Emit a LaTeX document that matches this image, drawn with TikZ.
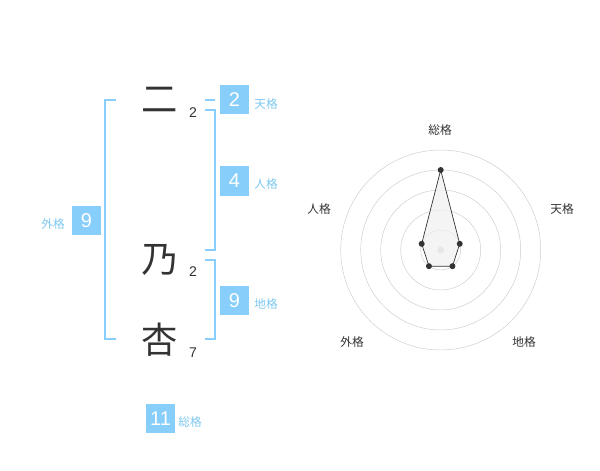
\documentclass[tikz,border=0pt]{standalone}
\usepackage{fontspec}
\setmainfont{Liberation Sans}
\newfontfamily\jpfont{Noto Sans CJK JP}
\usepackage{xcolor}
\usetikzlibrary{positioning,calc}

\definecolor{skyfill}{HTML}{87CEFA}
\definecolor{skytext}{HTML}{7EC8F0}
\definecolor{inkgray}{HTML}{333333}
\definecolor{ringgray}{HTML}{CCCCCC}

\begin{document}
\begin{tikzpicture}[
  x=0.03cm, y=0.03cm,
  kanji/.style={font=\jpfont\fontsize{31}{31}\selectfont, text=inkgray, inner sep=0pt},
  stroke/.style={font=\fontsize{12}{12}\selectfont, text=inkgray, inner sep=0pt},
  score/.style={fill=skyfill, text=white, minimum size=0.87cm, inner sep=0pt, font=\fontsize{17}{17}\selectfont},
  kaku/.style={font=\jpfont\fontsize{10}{10}\selectfont, text=skytext, inner sep=0pt},
  axis/.style={font=\jpfont\fontsize{10}{10}\selectfont, text=inkgray, inner sep=0pt},
  bracket/.style={draw=skyfill, line width=1.6pt},
  ring/.style={draw=ringgray, line width=0.4pt}
]
  \useasboundingbox (0,0) rectangle (600,470);

  % Name characters and stroke counts
  \node[kanji]  (c1) at (160, 370) {二};
  \node[kanji]  (c2) at (160, 210) {乃};
  \node[kanji]  (c3) at (160, 130) {杏};
  \node[stroke] (n1) at (193, 357) {2};
  \node[stroke] (n2) at (193, 198) {2};
  \node[stroke] (n3) at (193, 117) {7};

  % Brackets
  \draw[bracket] (116, 370) -- (105, 370) -- (105, 131) -- (116, 131);
  \draw[bracket] (205, 370) -- (215, 370);
  \draw[bracket] (205, 360) -- (215, 360) -- (215, 220) -- (205, 220);
  \draw[bracket] (205, 210) -- (215, 210) -- (215, 131) -- (205, 131);

  % Scores
  \node[score] (ten)   at (234.5, 370)   {2};
  \node[score] (jin)   at (234.5, 289)   {4};
  \node[score] (chi)   at (234.5, 169.5) {9};
  \node[score] (gai)   at (86.5, 249.5)  {9};
  \node[score] (so)    at (160.5, 51.5)  {11};
  \node[kaku] (tenl) at (266, 366) {天格};
  \node[kaku] (jinl) at (266, 286) {人格};
  \node[kaku] (chil) at (266, 166) {地格};
  \node[kaku] (gail) at (53, 246)  {外格};
  \node[kaku] (sol)  at (190, 48)  {総格};

  % Radar chart
  \coordinate (ctr) at (440.7, 220);
  \foreach \r in {20,40,60,80,100}
    \draw[ring] (ctr) circle[radius=\r];
  \fill[ringgray!90] (ctr) circle[radius=3.5];
  \draw[inkgray, fill=gray!12, fill opacity=0.7, line width=0.6pt]
    ($(ctr)+(90:80)$) -- ($(ctr)+(18:20)$) -- ($(ctr)+(-54:20)$)
    -- ($(ctr)+(-126:20)$) -- ($(ctr)+(162:20)$) -- cycle;
  \foreach \a/\v in {90/80, 18/20, -54/20, -126/20, 162/20}
    \fill[inkgray] ($(ctr)+(\a:\v)$) circle[radius=3];
  \node[axis] (aso)  at (440, 340)   {総格};
  \node[axis] (aten) at (562, 261)   {天格};
  \node[axis] (ajin) at (319, 261)   {人格};
  \node[axis] (agai) at (352, 128)   {外格};
  \node[axis] (achi) at (524, 128)   {地格};
\end{tikzpicture}
\end{document}
